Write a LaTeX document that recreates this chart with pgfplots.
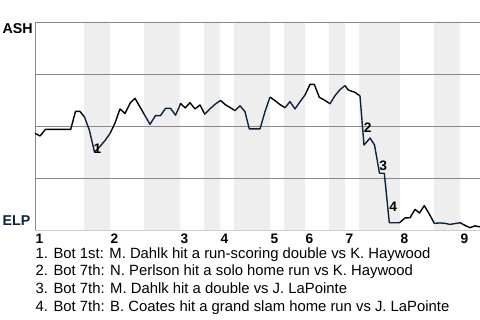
\documentclass[border=0pt]{standalone}
\usepackage{pgfplots}
\pgfplotsset{compat=1.18}
\usepackage{fontspec}
\setmainfont{Liberation Sans}
\definecolor{navy}{HTML}{0C2340}
\definecolor{band}{HTML}{EEEEEE}
\definecolor{gridc}{HTML}{888888}
\definecolor{basec}{HTML}{CCCCCC}
\begin{document}
\begin{tikzpicture}
\begin{axis}[
  at={(35bp,90bp)}, anchor=south west,
  scale only axis, width=445bp, height=208bp,
  xmin=0, xmax=445, ymin=0, ymax=100,
  axis line style={draw=none},
  ytick=\empty,
  major tick length=0pt,
  xtick={0,75,145,185,235,270,310,365,425},
  xticklabels={1,2,3,4,5,6,7,8,9},
  xticklabel style={font=\fontsize{13.8}{13.8}\selectfont\bfseries, anchor=north west, inner xsep=0pt, inner ysep=0pt, yshift=-3.5bp, xshift=0.5bp},
  clip=false,
]
\addplot[const plot mark left, fill=band, draw=none] coordinates {
(0,0)(49,100)(75,0)(109,100)(145,0)(169,100)(185,0)(199,100)(235,0)(249,100)(270,0)(294,100)(310,0)(324,100)(365,0)(399,100)(425,0)(445,0)} \closedcycle;
% grid and axis lines
\addplot[gridc, line width=0.8pt] coordinates {(0,25)(445,25)};
\addplot[gridc, line width=0.8pt] coordinates {(0,50)(445,50)};
\addplot[gridc, line width=0.8pt] coordinates {(0,75)(445,75)};
\addplot[gridc, line width=0.8pt] coordinates {(0,100)(445,100)};
\addplot[basec, line width=1pt] coordinates {(0,0)(445,0)};
\addplot[gridc, line width=0.8pt] coordinates {(0,0)(0,100)};
% ASH batting (black)
\addplot[black, line width=1.4bp, line join=round] coordinates {
(0,46.5)(5,45.2)(10.5,48.4)(35.7,48.4)(40.5,57.0)(45,57.0)(49,54.6)};
\addplot[black, line width=1.4bp, line join=round] coordinates {
(75,46.4)(80,51.4)(85,58.2)(90,56.0)(95.5,61.3)(100,63.3)(109,55.8)};
\addplot[black, line width=1.4bp, line join=round] coordinates {
(145,60.0)(145.7,60.8)(150.2,58.7)(155,61.2)(160,58.2)(165,60.1)(169,56.4)};
\addplot[black, line width=1.4bp, line join=round] coordinates {
(185,62.1)(185.5,62.3)(190.5,60.2)(195,58.9)(199,57.7)};
\addplot[black, line width=1.4bp, line join=round] coordinates {
(235,63.9)(240,62.2)(245,60.3)(249,59.1)};
\addplot[black, line width=1.4bp, line join=round] coordinates {
(270,64.9)(275,70.0)(279.3,70.0)(284.3,63.8)(289.3,62.5)(294,61.0)};
\addplot[black, line width=1.4bp, line join=round] coordinates {
(310,69.4)(313.3,67.3)(320,66.2)(324,64.8)};
\addplot[black, line width=1.4bp, line join=round] coordinates {
(365,3.7)(370,5.8)(375,5.9)(380,9.9)(384.5,8.2)(389.3,11.7)(394.3,7.7)(399,3.5)};
\addplot[black, line width=1.4bp, line join=round] coordinates {
(425,3.5)(430,2.2)(435,1.1)(440,2.0)(445,1.5)};
% ELP batting (navy)
\addplot[navy, line width=1.4bp, line join=round] coordinates {
(49,54.6)(49.5,54.3)(54.3,48.1)(59.5,37.5)(64.5,39.9)(70,43.0)(75,46.4)};
\addplot[navy, line width=1.4bp, line join=round] coordinates {
(109,55.8)(115,50.8)(120.5,55.0)(125.5,55.0)(130.5,58.5)(135.5,58.5)(140.5,55.2)(145,60.0)};
\addplot[navy, line width=1.4bp, line join=round] coordinates {
(169,56.4)(169.8,55.7)(175,58.3)(180.5,60.6)(185,62.1)};
\addplot[navy, line width=1.4bp, line join=round] coordinates {
(199,57.7)(200,57.4)(205,59.7)(210,56.9)(214.3,48.6)(225,48.6)(230,56.9)(235,63.9)};
\addplot[navy, line width=1.4bp, line join=round] coordinates {
(249,59.1)(250,58.8)(255,61.7)(260,58.2)(265,61.7)(270,64.9)};
\addplot[navy, line width=1.4bp, line join=round] coordinates {
(294,61.0)(295,60.7)(300,64.6)(305,67.5)(310,69.4)};
\addplot[navy, line width=1.4bp, line join=round] coordinates {
(324,64.8)(325,64.4)(329,40.8)(335,44.2)(339.5,40.9)(344.5,27.3)(349.3,27.3)(354.3,3.5)(364.5,3.5)(365,3.7)};
\addplot[navy, line width=1.4bp, line join=round] coordinates {
(399,3.5)(399.3,3.2)(405,3.4)(410,3.2)(415,2.7)(420,3.1)(425,3.5)};
\begin{scope}[font=\fontsize{13.8}{13.8}\selectfont\bfseries, inner sep=0pt]
\node at (axis cs:62.5,39.2) {1};
\node at (axis cs:332.7,49.2) {2};
\node at (axis cs:348.3,30.9) {3};
\node at (axis cs:358.3,11.3) {4};
\end{scope}
\end{axis}
\node[anchor=west, inner sep=0pt, font=\fontsize{14.3}{14.3}\selectfont\bfseries] at (2.5bp,291bp) {ASH};
\node[anchor=west, inner sep=0pt, font=\fontsize{14.3}{14.3}\selectfont\bfseries, text=navy] at (2.5bp,99.5bp) {ELP};
\begin{scope}[font=\fontsize{14.9}{14.9}\selectfont, inner sep=0pt, anchor=base west]
\node at (35.5bp,61.3bp) {1. Bot 1st: M. Dahlk hit a run-scoring double vs K. Haywood};
\node at (35.5bp,44bp) {2. Bot 7th: N. Perlson hit a solo home run vs K. Haywood};
\node at (35.5bp,26.3bp) {3. Bot 7th: M. Dahlk hit a double vs J. LaPointe};
\node at (35.5bp,8.7bp) {4. Bot 7th: B. Coates hit a grand slam home run vs J. LaPointe};
\end{scope}
\pgfresetboundingbox
\path (0,0) rectangle (480bp,320bp);
\end{tikzpicture}
\end{document}
